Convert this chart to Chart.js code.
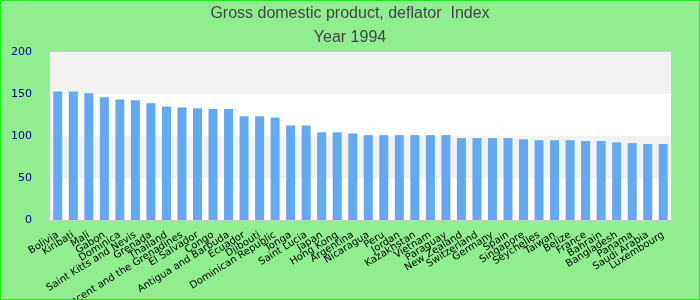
<!DOCTYPE html>
<html>
<head>
<meta charset="utf-8">
<script src="https://cdn.jsdelivr.net/npm/chart.js@4"></script>
<style>
  html, body { margin: 0; padding: 0; background: #90ee90; }
  #wrap { width: 700px; height: 300px; box-sizing: border-box; border: 1px solid #1ee81e; position: relative; }
  canvas { display: block; }
</style>
</head>
<body>
<div id="wrap"><canvas id="chart" width="698" height="298"></canvas></div>
<script>
// data
const titleLines = ['Gross domestic product, deflator  Index', 'Year 1994'];
const countries = ['Bolivia', 'Kiribati', 'Mali', 'Gabon', 'Dominica', 'Saint Kitts and Nevis', 'Grenada',
  'Thailand', 'Saint Vincent and the Grenadines', 'El Salvador', 'Congo', 'Antigua and Barbuda', 'Ecuador',
  'Djibouti', 'Dominican Republic', 'Tonga', 'Saint Lucia', 'Japan', 'Hong Kong', 'Argentina', 'Nicaragua',
  'Peru', 'Jordan', 'Kazakhstan', 'Vietnam', 'Paraguay', 'New Zealand', 'Switzerland', 'Germany', 'Spain',
  'Singapore', 'Seychelles', 'Taiwan', 'Belize', 'France', 'Bahrain', 'Bangladesh', 'Panama', 'Saudi Arabia',
  'Luxembourg'];
const deflator = [153, 153, 151, 146, 143.5, 142.5, 139, 135, 134, 133, 132, 132, 123.5,
  123.5, 122, 112.5, 112.5, 104.5, 104.5, 103, 101, 101, 101, 101, 101, 101, 97.5, 97.5, 97.5, 97.5,
  96, 95, 95, 95, 94, 94, 92.5, 91.5, 90.5, 90.5];
const yTicks = [0, 50, 100, 150, 200];

// alternating bands + frame around the plot
const bandsPlugin = {
  id: 'bands',
  beforeDatasetsDraw(chart) {
    const { ctx, chartArea: a, scales: { y } } = chart;
    ctx.save();
    for (let i = 0; i < yTicks.length - 1; i++) {
      const top = y.getPixelForValue(yTicks[i + 1]);
      const bot = y.getPixelForValue(yTicks[i]);
      ctx.fillStyle = i % 2 ? '#f2f2f2' : '#ffffff';
      ctx.fillRect(a.left, top, a.right - a.left, bot - top);
    }
    ctx.restore();
  },
  afterDatasetsDraw(chart) {
    const { ctx, chartArea: a } = chart;
    ctx.save();
    ctx.strokeStyle = '#cccccc';
    ctx.lineWidth = 1;
    ctx.strokeRect(a.left - 0.5, a.top - 0.5, a.right - a.left + 1, a.bottom - a.top + 1);
    ctx.restore();
  }
};

// title centred on the whole canvas, not on the plot
const titlePlugin = {
  id: 'pageTitle',
  afterDraw(chart) {
    const ctx = chart.ctx;
    ctx.save();
    ctx.fillStyle = '#444444';
    ctx.font = '16px "Liberation Sans", Arial, sans-serif';
    ctx.textAlign = 'center';
    ctx.textBaseline = 'alphabetic';
    ctx.fillText(titleLines[0], chart.width / 2, 17);
    ctx.fillText(titleLines[1], chart.width / 2, 41);
    ctx.restore();
  }
};

new Chart(document.getElementById('chart').getContext('2d'), {
  type: 'bar',
  data: {
    labels: countries,
    datasets: [{
      data: deflator,
      backgroundColor: '#62a9f2',
      borderWidth: 0,
      categoryPercentage: 1,
      barPercentage: 0.58
    }]
  },
  options: {
    responsive: false,
    animation: false,
    layout: { padding: { top: 51, right: 28, left: 0, bottom: 0 } },
    plugins: {
      legend: { display: false },
      tooltip: { enabled: false },
      title: { display: false }
    },
    scales: {
      x: {
        grid: { display: false },
        border: { display: false },
        ticks: {
          color: '#000000',
          font: { family: 'DejaVu Sans', size: 10 },
          minRotation: 32,
          maxRotation: 32,
          autoSkip: false,
          padding: 1
        },
        afterFit(scale) { scale.height = 79; }
      },
      y: {
        min: 0,
        max: 200,
        grid: { display: false },
        border: { display: false },
        ticks: {
          stepSize: 50,
          color: '#00008b',
          font: { family: 'DejaVu Sans', size: 11 },
          padding: 10
        },
        afterFit(scale) { scale.width = 49; }
      }
    }
  },
  plugins: [bandsPlugin, titlePlugin]
});
</script>
</body>
</html>
